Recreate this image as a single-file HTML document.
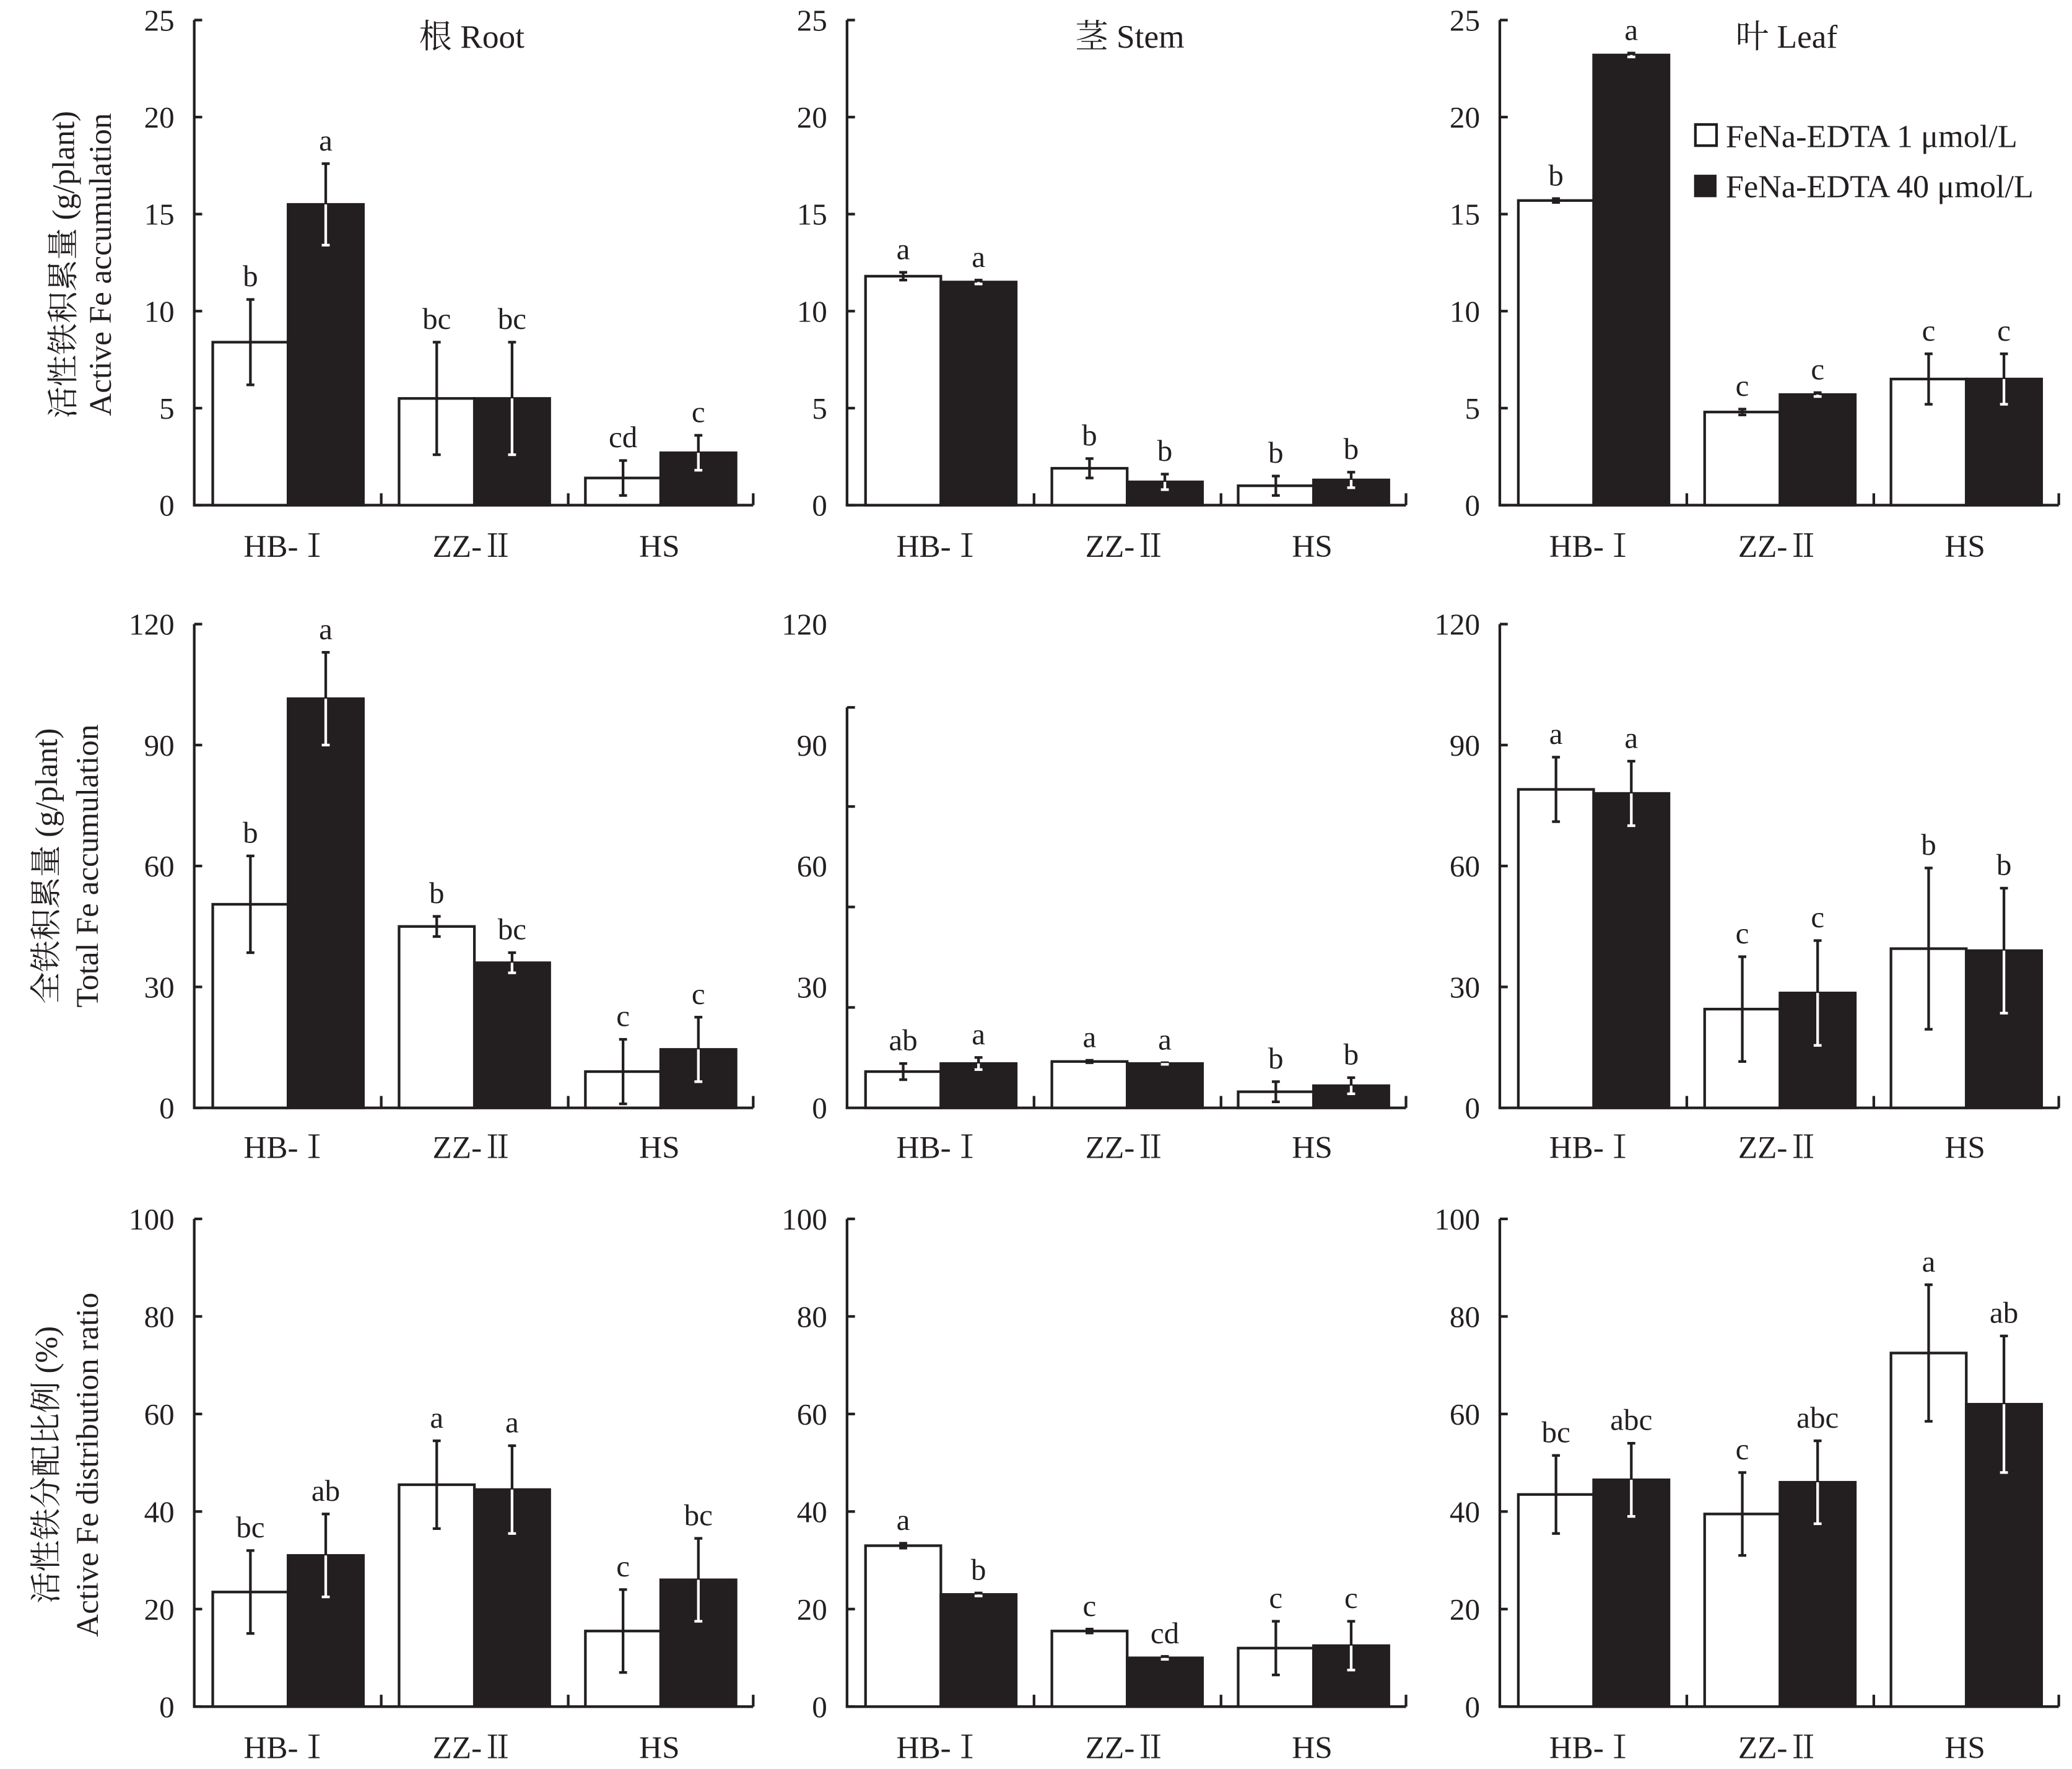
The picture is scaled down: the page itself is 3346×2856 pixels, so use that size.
<!DOCTYPE html>
<html><head><meta charset="utf-8"><style>
html,body{margin:0;padding:0;background:#fff}
svg{display:block}
text{font-family:"Liberation Serif","Noto Serif CJK SC","Noto Sans CJK SC",serif;fill:#231f20}
</style></head><body>
<svg id="chart" width="3346" height="2856" viewBox="0 0 1568 1338" xmlns="http://www.w3.org/2000/svg">
<g id="g"></g>
</svg>
<script>
const groups = ["HB-Ⅰ","ZZ-Ⅱ","HS"];
// Row 1: active Fe accumulation
const rootActiveLow = [8.4,5.5,1.4], rootActiveLowErr=[2.2,2.9,0.9], rootActiveHigh=[15.5,5.5,2.7], rootActiveHighErr=[2.1,2.9,0.9];
const rootActiveLowSig=["b","bc","cd"], rootActiveHighSig=["a","bc","c"];
const stemActiveLow=[11.8,1.9,1.0], stemActiveLowErr=[0.2,0.5,0.5], stemActiveHigh=[11.5,1.2,1.3], stemActiveHighErr=[0.1,0.4,0.4];
const stemActiveLowSig=["a","b","b"], stemActiveHighSig=["a","b","b"];
const leafActiveLow=[15.7,4.8,6.5], leafActiveLowErr=[0.1,0.15,1.3], leafActiveHigh=[23.2,5.7,6.5], leafActiveHighErr=[0.1,0.1,1.3];
const leafActiveLowSig=["b","c","c"], leafActiveHighSig=["a","c","c"];
// Row 2: total Fe accumulation
const rootTotalLow=[50.5,45,9], rootTotalLowErr=[12,2.5,8], rootTotalHigh=[101.5,36,14.5], rootTotalHighErr=[11.5,2.5,8];
const rootTotalLowSig=["b","b","c"], rootTotalHighSig=["a","bc","c"];
const stemTotalLow=[9,11.5,4], stemTotalLowErr=[2,0.3,2.5], stemTotalHigh=[11,11,5.5], stemTotalHighErr=[1.5,0.2,2];
const stemTotalLowSig=["ab","a","b"], stemTotalHighSig=["a","a","b"];
const leafTotalLow=[79,24.5,39.5], leafTotalLowErr=[8,13,20], leafTotalHigh=[78,28.5,39], leafTotalHighErr=[8,13,15.5];
const leafTotalLowSig=["a","c","b"], leafTotalHighSig=["a","c","b"];
// Row 3: distribution ratio
const rootRatioLow=[23.5,45.5,15.5], rootRatioLowErr=[8.5,9,8.5], rootRatioHigh=[31,44.5,26], rootRatioHighErr=[8.5,9,8.5];
const rootRatioLowSig=["bc","a","c"], rootRatioHighSig=["ab","a","bc"];
const stemRatioLow=[33,15.5,12], stemRatioLowErr=[0.5,0.4,5.5], stemRatioHigh=[23,10,12.5], stemRatioHighErr=[0.3,0.3,5];
const stemRatioLowSig=["a","c","c"], stemRatioHighSig=["b","cd","c"];
const leafRatioLow=[43.5,39.5,72.5], leafRatioLowErr=[8,8.5,14], leafRatioHigh=[46.5,46,62], leafRatioHighErr=[7.5,8.5,14];
const leafRatioLowSig=["bc","c","a"], leafRatioHighSig=["abc","abc","ab"];
const ticksActive=[0,5,10,15,20,25], ticksTotal=[0,30,60,90,120], ticksRatio=[0,20,40,60,80,100];

const NS="http://www.w3.org/2000/svg";
const root=document.getElementById('g');
function mk(tag,attrs,parent,txt){const e=document.createElementNS(NS,tag);for(const k in attrs)e.setAttribute(k,attrs[k]);if(txt!==undefined)e.textContent=txt;(parent||root).appendChild(e);return e;}

const rows=[{y0:382,y1:15,max:25,ticks:ticksActive,xl:412},{y0:838,y1:472,max:120,ticks:ticksTotal,xl:867},{y0:1291,y1:922,max:100,ticks:ticksRatio,xl:1321}];
const cols=[147,641,1135];
const panels=[
[rootActiveLow,rootActiveLowErr,rootActiveHigh,rootActiveHighErr,rootActiveLowSig,rootActiveHighSig],
[stemActiveLow,stemActiveLowErr,stemActiveHigh,stemActiveHighErr,stemActiveLowSig,stemActiveHighSig],
[leafActiveLow,leafActiveLowErr,leafActiveHigh,leafActiveHighErr,leafActiveLowSig,leafActiveHighSig],
[rootTotalLow,rootTotalLowErr,rootTotalHigh,rootTotalHighErr,rootTotalLowSig,rootTotalHighSig],
[stemTotalLow,stemTotalLowErr,stemTotalHigh,stemTotalHighErr,stemTotalLowSig,stemTotalHighSig],
[leafTotalLow,leafTotalLowErr,leafTotalHigh,leafTotalHighErr,leafTotalLowSig,leafTotalHighSig],
[rootRatioLow,rootRatioLowErr,rootRatioHigh,rootRatioHighErr,rootRatioLowSig,rootRatioHighSig],
[stemRatioLow,stemRatioLowErr,stemRatioHigh,stemRatioHighErr,stemRatioLowSig,stemRatioHighSig],
[leafRatioLow,leafRatioLowErr,leafRatioHigh,leafRatioHighErr,leafRatioLowSig,leafRatioHighSig]];
const names=["root","stem","leaf"], rnames=["active-fe","total-fe","ratio"];

panels.forEach((p,i)=>{
  const r=rows[Math.floor(i/3)], x0=cols[i%3];
  const y=v=>r.y0-(v/r.max)*(r.y0-r.y1);
  const g=mk('g',{});
  
  
  const xEnd=x0+423;
  const special=(i===4);
  const ya=mk('line',{x1:x0,y1:special?535:r.y1,x2:x0,y2:r.y0,stroke:'#231f20','stroke-width':2},g);
  
  const xa=mk('line',{x1:x0-1,y1:r.y0,x2:xEnd,y2:r.y0,stroke:'#231f20','stroke-width':2},g);
  
  r.ticks.forEach(t=>{
    if(!special) mk('line',{x1:x0,y1:y(t),x2:x0+6,y2:y(t),stroke:'#231f20','stroke-width':2},g);
    const tl=mk('text',{x:x0-15,y:y(t)+8,'text-anchor':'end','font-size':23},g,String(t));
    
  });
  if(special){[535,610,686,762].forEach(yy=>mk('line',{x1:x0,y1:yy,x2:x0+6,y2:yy,stroke:'#231f20','stroke-width':2},g));}
  [0,1,2].forEach(k=>{
    const bx=x0+(k+1)*141.5;
    if(k<2) mk('line',{x1:bx,y1:r.y0,x2:bx,y2:r.y0-9,stroke:'#231f20','stroke-width':2},g);
    else mk('line',{x1:xEnd,y1:r.y0,x2:xEnd,y2:r.y0-9,stroke:'#231f20','stroke-width':2},g);
    const cx=x0+71+k*141;
    const xl=mk('text',{x:cx-1,y:r.xl+9,'text-anchor':'middle','font-size':24},g,groups[k]);
    
    [[p[0],p[1],p[4],'#fff','low'],[p[2],p[3],p[5],'#231f20','high']].forEach((s,j)=>{
      const v=s[0][k],e=s[1][k],bxl=cx-57+j*57;
      const b=mk('rect',{x:bxl,y:y(v),width:57,height:r.y0-y(v),fill:s[3],stroke:'#231f20','stroke-width':2},g);
      
      const mx=bxl+28.5;
      mk('line',{x1:mx,y1:y(v+e),x2:mx,y2:y(v),stroke:'#231f20','stroke-width':2},g);
      mk('line',{x1:mx,y1:y(v),x2:mx,y2:y(v-e),stroke:j?'#fff':'#231f20','stroke-width':2},g);
      mk('line',{x1:mx-3,y1:y(v+e),x2:mx+3,y2:y(v+e),stroke:'#231f20','stroke-width':2},g);
      mk('line',{x1:mx-3,y1:y(v-e),x2:mx+3,y2:y(v-e),stroke:j?'#fff':'#231f20','stroke-width':2},g);
      const lt=mk('text',{x:mx,y:y(v+e)-10,'text-anchor':'middle','font-size':23},g,s[2][k]);
      
    });
  });
});
</script>
<script>
const s=document.getElementById('g');
function T(x,y,t,name,size,rot){const e=document.createElementNS("http://www.w3.org/2000/svg",'text');e.setAttribute('x',x);e.setAttribute('y',y);e.setAttribute('font-size',size||22);e.setAttribute('text-anchor','middle');if(rot)e.setAttribute('transform','rotate(-90 '+x+' '+y+')');e.textContent=t;


s.appendChild(e);return e;}
T(357,36,"根 Root","panel-title-root",25);
T(855,36,"茎 Stem","panel-title-stem",25);
T(1352,36,"叶 Leaf","panel-title-leaf",25);
T(56,200,"活性铁积累量 (g/plant)","y-axis-title-row1-cn",24,true);
T(84,200,"Active Fe accumulation","y-axis-title-row1-en",24,true);
T(43,655,"全铁积累量 (g/plant)","y-axis-title-row2-cn",24,true);
T(74,655,"Total Fe accumulation","y-axis-title-row2-en",24,true);
T(43,1108,"活性铁分配比例 (%)","y-axis-title-row3-cn",24,true);
T(74,1108,"Active Fe distribution ratio","y-axis-title-row3-en",24,true);
const NS2="http://www.w3.org/2000/svg";
const r1=document.createElementNS(NS2,'rect');r1.setAttribute('x',1283);r1.setAttribute('y',94);r1.setAttribute('width',16);r1.setAttribute('height',16);r1.setAttribute('fill','#fff');r1.setAttribute('stroke','#231f20');r1.setAttribute('stroke-width',2);


s.appendChild(r1);
const r2=document.createElementNS(NS2,'rect');r2.setAttribute('x',1282);r2.setAttribute('y',132);r2.setAttribute('width',17);r2.setAttribute('height',17);r2.setAttribute('fill','#231f20');


s.appendChild(r2);
const l1=T(1306,111,"FeNa-EDTA 1 μmol/L","legend-entry-1umol",24.5);l1.setAttribute('text-anchor','start');
const l2=T(1306,149,"FeNa-EDTA 40 μmol/L","legend-entry-40umol",24.5);l2.setAttribute('text-anchor','start');
</script>
</body></html>
